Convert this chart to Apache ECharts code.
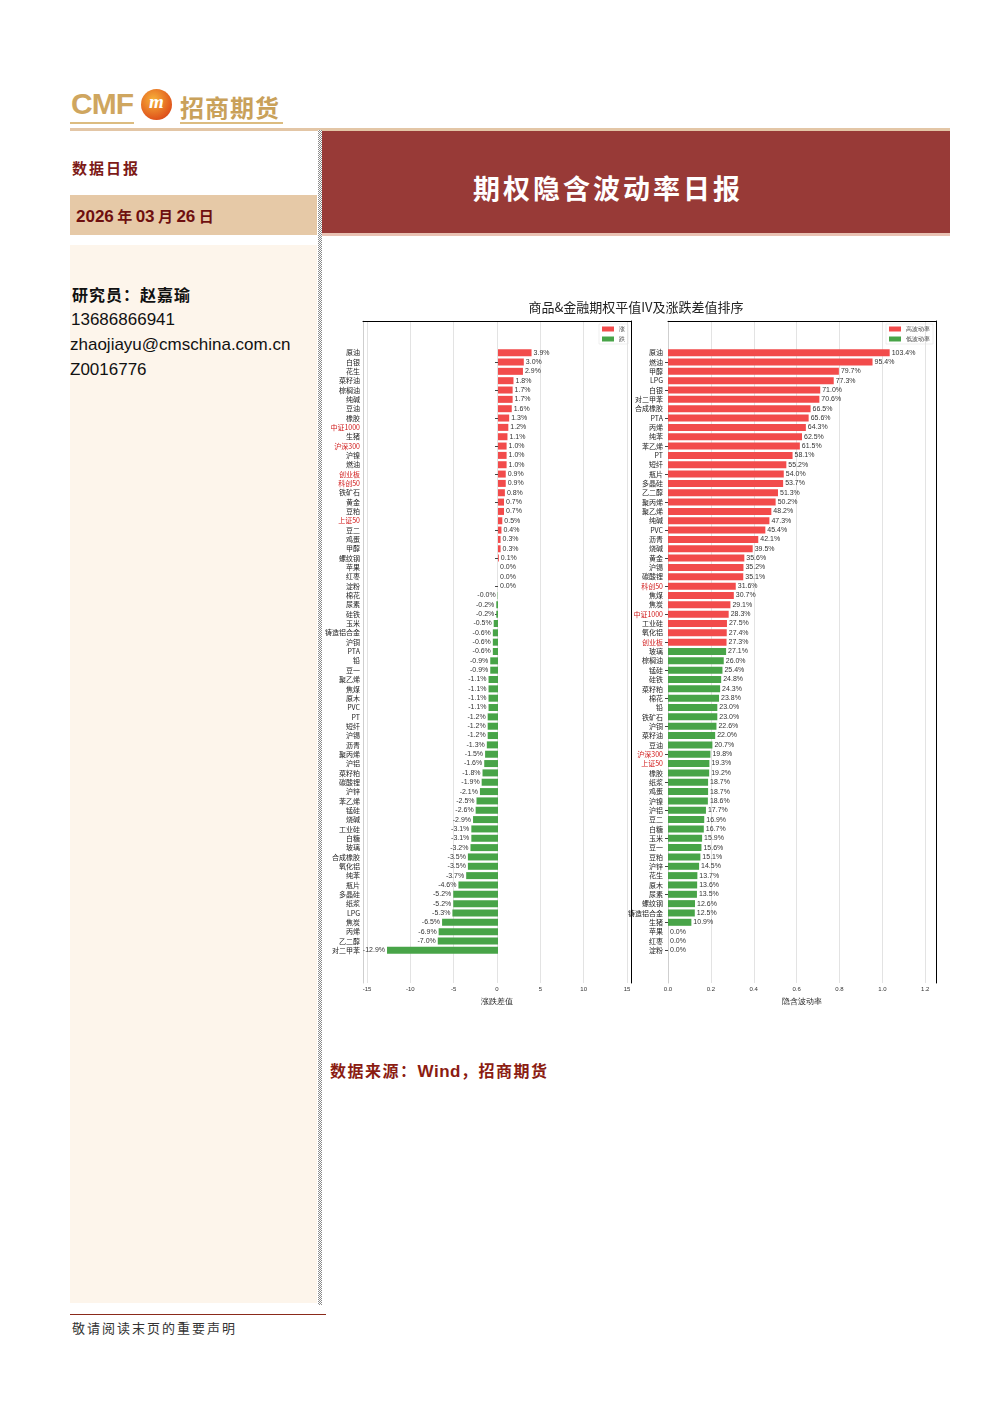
<!DOCTYPE html>
<html><head><meta charset="utf-8">
<script src="https://cdn.jsdelivr.net/npm/echarts@6/dist/echarts.min.js"></script>
<style>
body{margin:0;background:#fff;font-family:"Noto Sans CJK SC","Liberation Sans",sans-serif;}
#page{position:relative;width:992px;height:1403px;overflow:hidden;background:#fff;}
.abs{position:absolute;}
</style></head><body><div id="page">
<!-- logo -->
<div class="abs" style="left:71px;top:87px;font:bold 30px 'Liberation Sans',sans-serif;color:#cfa65f;letter-spacing:-1px;">CMF</div>
<div class="abs" style="left:141px;top:89px;width:31px;height:31px;border-radius:50%;background:radial-gradient(circle at 40% 35%,#f7b23a,#e0561c 70%,#b8300f);"></div>
<div class="abs" style="left:141px;top:91px;width:31px;text-align:center;font:italic bold 19px 'Liberation Serif',serif;color:#fff;">m</div>
<div class="abs" style="left:180px;top:89px;font:bold 24px 'Noto Sans CJK SC';color:#c9a15a;letter-spacing:1px;">招商期货</div>
<div class="abs" style="left:70px;top:122px;width:64px;height:2px;background:#dcbc80;"></div>
<div class="abs" style="left:180px;top:122px;width:103px;height:2px;background:#dcbc80;"></div>
<!-- header band -->
<div class="abs" style="left:70px;top:128px;width:880px;height:3px;background:#e3c6a6;"></div>
<div class="abs" style="left:322px;top:131px;width:628px;height:102px;background:#983a37;"></div>
<div class="abs" style="left:322px;top:233px;width:628px;height:3px;background:#e9c2b3;"></div>
<div class="abs" style="left:322px;top:168px;width:572px;text-align:center;font:bold 27px 'Noto Sans CJK SC';color:#fff;letter-spacing:3px;">期权隐含波动率日报</div>
<div class="abs" style="left:72px;top:157px;font:bold 15px 'Noto Sans CJK SC';color:#7d1a17;letter-spacing:2px;">数据日报</div>
<div class="abs" style="left:70px;top:195px;width:247px;height:40px;background:#e6c9a7;"></div>
<div class="abs" style="left:76px;top:205px;font:bold 17px 'Liberation Sans','Noto Sans CJK SC';color:#6e0f0f;">2026<span style="font-family:'Noto Sans CJK SC';font-size:15px"> 年 </span>03<span style="font-family:'Noto Sans CJK SC';font-size:15px"> 月 </span>26<span style="font-family:'Noto Sans CJK SC';font-size:15px"> 日</span></div>
<!-- divider -->
<div class="abs" style="left:318px;top:130px;width:4px;height:1175px;background:repeating-conic-gradient(#8a8a8a 0 25%,#fff 0 50%) 0 0/2px 2px;"></div>
<!-- left panel -->
<div class="abs" style="left:70px;top:245px;width:247px;height:1058px;background:#fdf5eb;"></div>
<div class="abs" style="left:72px;top:282px;font:bold 16px 'Noto Sans CJK SC';color:#111;letter-spacing:1px;">研究员：赵嘉瑜</div>
<div class="abs" style="left:71px;top:310px;font:17px 'Liberation Sans',sans-serif;color:#111;">13686866941</div>
<div class="abs" style="left:70px;top:335px;font:17px 'Liberation Sans',sans-serif;color:#111;">zhaojiayu@cmschina.com.cn</div>
<div class="abs" style="left:70px;top:360px;font:17px 'Liberation Sans',sans-serif;color:#111;">Z0016776</div>
<!-- source -->
<div class="abs" style="left:330px;top:1058px;font:bold 16px 'Noto Sans CJK SC';color:#8b1c12;letter-spacing:1.5px;">数据来源：<span style="font-family:'Liberation Sans';font-size:17px;letter-spacing:0.5px">Wind</span>，招商期货</div>
<!-- footer -->
<div class="abs" style="left:70px;top:1314px;width:256px;height:1px;background:#8b2a1a;"></div>
<div class="abs" style="left:72px;top:1318px;font:13px 'Noto Sans CJK SC';color:#333;letter-spacing:2px;">敬请阅读末页的重要声明</div>
<div id="chart" class="abs" style="left:322px;top:290px;width:628px;height:730px;"></div>
</div>
<script>
// ---- data ----
const chartTitle = '商品&金融期权平值IV及涨跌差值排序';
const leftCats = ['原油','白银','花生','菜籽油','棕榈油','纯碱','豆油','橡胶','中证1000','生猪','沪深300','沪镍','燃油','创业板','科创50','铁矿石','黄金','豆粕','上证50','豆二','鸡蛋','甲醇','螺纹钢','苹果','红枣','淀粉','棉花','尿素','硅铁','玉米','铸造铝合金','沪铜','PTA','铅','豆一','聚乙烯','焦煤','原木','PVC','PT','短纤','沪锡','沥青','聚丙烯','沪铝','菜籽粕','碳酸锂','沪锌','苯乙烯','锰硅','烧碱','工业硅','白糖','玻璃','合成橡胶','氧化铝','纯苯','瓶片','多晶硅','纸浆','LPG','焦炭','丙烯','乙二醇','对二甲苯'];
const leftChange = [3.9,3.0,2.9,1.8,1.7,1.7,1.6,1.3,1.2,1.1,1.0,1.0,1.0,0.9,0.9,0.8,0.7,0.7,0.5,0.4,0.3,0.3,0.1,0.0,0.0,0.0,-0.04,-0.2,-0.2,-0.5,-0.6,-0.6,-0.6,-0.9,-0.9,-1.1,-1.1,-1.1,-1.1,-1.2,-1.2,-1.2,-1.3,-1.5,-1.6,-1.8,-1.9,-2.1,-2.5,-2.6,-2.9,-3.1,-3.1,-3.2,-3.5,-3.5,-3.7,-4.6,-5.2,-5.2,-5.3,-6.5,-6.9,-7.0,-12.9];
const rightCats = ['原油','燃油','甲醇','LPG','白银','对二甲苯','合成橡胶','PTA','丙烯','纯苯','苯乙烯','PT','短纤','瓶片','多晶硅','乙二醇','聚丙烯','聚乙烯','纯碱','PVC','沥青','烧碱','黄金','沪锡','碳酸锂','科创50','焦煤','焦炭','中证1000','工业硅','氧化铝','创业板','玻璃','棕榈油','锰硅','硅铁','菜籽粕','棉花','铅','铁矿石','沪铜','菜籽油','豆油','沪深300','上证50','橡胶','纸浆','鸡蛋','沪镍','沪铝','豆二','白糖','玉米','豆一','豆粕','沪锌','花生','原木','尿素','螺纹钢','铸造铝合金','生猪','苹果','红枣','淀粉'];
const rightIV = [103.4,95.4,79.7,77.3,71.0,70.6,66.5,65.6,64.3,62.5,61.5,58.1,55.2,54.0,53.7,51.3,50.2,48.2,47.3,45.4,42.1,39.5,35.6,35.2,35.1,31.6,30.7,29.1,28.3,27.5,27.4,27.3,27.1,26.0,25.4,24.8,24.3,23.8,23.0,23.0,22.6,22.0,20.7,19.8,19.3,19.2,18.7,18.7,18.6,17.7,16.9,16.7,15.9,15.6,15.1,14.5,13.7,13.6,13.5,12.6,12.5,10.9,0.0,0.0,0.0];
const financeNames = ['中证1000','沪深300','创业板','科创50','上证50'];
const leftLegend = ['涨','跌'];
const rightLegend = ['高波动率','低波动率'];
const leftAxisName = '涨跌差值';
const rightAxisName = '隐含波动率';

// ---- chart ----
const RED = '#f24b4b', GREEN = '#48a448';
const pct = v => Number(v).toFixed(1) + '%';
const threshold = [...rightIV].sort((a,b)=>b-a)[Math.floor(rightIV.length/2)];

const frameTop = gi => ({gridIndex:gi,type:'value',position:'top',min:0,max:1,
  axisLine:{show:true,onZero:false,lineStyle:{color:'#000',width:1}},axisTick:{show:false},axisLabel:{show:false},splitLine:{show:false}});
const frameSide = (gi,pos,color) => ({gridIndex:gi,type:'value',position:pos,min:0,max:1,
  axisLine:{show:true,onZero:false,lineStyle:{color:color,width:1}},axisTick:{show:false},axisLabel:{show:false},splitLine:{show:false}});
const catAxis = (gi,cats) => ({gridIndex:gi,type:'category',inverse:true,data:cats,
  axisLine:{show:false},
  axisTick:{show:true,alignWithLabel:true,length:3,interval:(i)=>i%3===1,lineStyle:{color:'#444'}},
  axisLabel:{interval:0,fontSize:7,margin:5,fontFamily:'Noto Sans CJK SC',
    color:(v)=>financeNames.includes(v)?'#d01818':'#222'},
  splitLine:{show:false}});
const barLabel = pos => ({show:true,position:pos,distance:2,fontSize:7,color:'#333',
  fontFamily:'Liberation Sans',formatter:p=>pct(p.value)});

const option = {
  animation:false,
  title:{text:chartTitle,left:'center',top:6,textStyle:{fontSize:13,fontWeight:'normal',color:'#222',fontFamily:'Noto Sans CJK SC'}},
  legend:[
    {data:leftLegend,orient:'vertical',right:322,top:34,icon:'rect',itemWidth:12,itemHeight:5,itemGap:4,
     textStyle:{fontSize:6,color:'#333'},borderColor:'#ddd',borderWidth:0.5,padding:[2,3]},
    {data:rightLegend,orient:'vertical',right:17,top:34,icon:'rect',itemWidth:12,itemHeight:5,itemGap:4,
     textStyle:{fontSize:6,color:'#333'},borderColor:'#ddd',borderWidth:0.5,padding:[2,3]}
  ],
  grid:[
    {left:41,top:31,width:268,height:662},   // frame L
    {left:45,top:31,width:260,height:662},   // scale L
    {left:41,top:58,width:268,height:607},   // data L
    {left:346,top:31,width:268,height:662},  // frame R
    {left:346,top:31,width:268,height:662},  // scale R
    {left:346,top:58,width:268,height:607}   // data R
  ],
  xAxis:[
    frameTop(0),
    {gridIndex:1,type:'value',min:-15,max:15,interval:5,position:'bottom',
     axisLine:{show:false},axisTick:{show:false},
     axisLabel:{fontSize:6,color:'#333',margin:3},
     splitLine:{show:true,lineStyle:{color:'#e3e3e3',width:1}},
     name:leftAxisName,nameLocation:'middle',nameGap:15,nameTextStyle:{fontSize:8,color:'#222'}},
    {gridIndex:2,type:'value',min:-15.46,max:15.46,show:false},
    frameTop(3),
    {gridIndex:4,type:'value',min:0,max:125,interval:20,position:'bottom',
     axisLine:{show:false},axisTick:{show:false},
     axisLabel:{fontSize:6,color:'#333',margin:3,showMaxLabel:false,formatter:v=>(v/100).toFixed(1)},
     splitLine:{show:true,lineStyle:{color:'#e3e3e3',width:1}},
     name:rightAxisName,nameLocation:'middle',nameGap:15,nameTextStyle:{fontSize:8,color:'#222'}},
    {gridIndex:5,type:'value',min:0,max:125,show:false}
  ],
  yAxis:[
    frameSide(0,'right','#000'),
    {gridIndex:1,type:'value',show:false},
    catAxis(2,leftCats),
    frameSide(3,'right','#000'),
    {gridIndex:4,type:'value',show:false},
    catAxis(5,rightCats),
    frameSide(0,'left','#cfcfcf'),
    frameSide(3,'left','#cfcfcf')
  ],
  series:[
    {name:leftLegend[0],type:'bar',xAxisIndex:2,yAxisIndex:2,stack:'L',barWidth:7,
     itemStyle:{color:RED},label:barLabel('right'),
     data:leftChange.map(v=>v>=0?v:'-')},
    {name:leftLegend[1],type:'bar',xAxisIndex:2,yAxisIndex:2,stack:'L',barWidth:7,
     itemStyle:{color:GREEN},label:barLabel('left'),
     data:leftChange.map(v=>v<0?v:'-')},
    {name:rightLegend[0],type:'bar',xAxisIndex:5,yAxisIndex:5,stack:'R',barWidth:7,
     itemStyle:{color:RED},label:barLabel('right'),
     data:rightIV.map(v=>v>threshold?v:'-')},
    {name:rightLegend[1],type:'bar',xAxisIndex:5,yAxisIndex:5,stack:'R',barWidth:7,
     itemStyle:{color:GREEN},label:barLabel('right'),
     data:rightIV.map(v=>v<=threshold?v:'-')}
  ]
};
const chart = echarts.init(document.getElementById('chart'),null,{renderer:'canvas'});
chart.setOption(option);
</script>
</body></html>
